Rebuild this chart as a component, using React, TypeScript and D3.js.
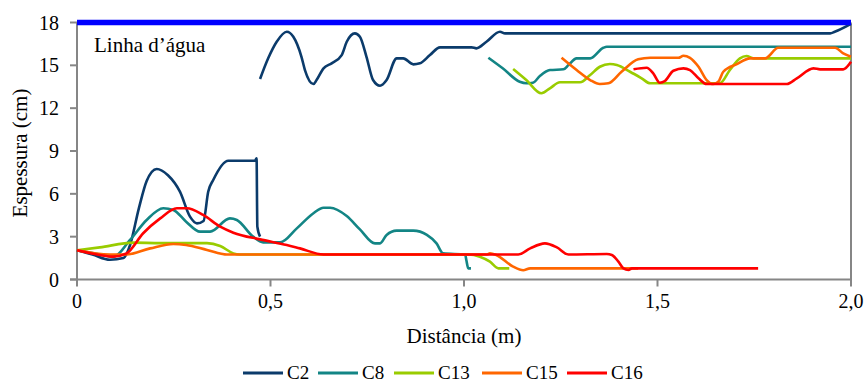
import React from "react";
import * as d3 from "d3";

// each series is a list of segments, each segment is [distance (m), thickness (cm)]
const c2 = [
  [[0, 2.05], [0.04, 1.75], [0.085, 1.38], [0.12, 1.5], [0.137, 2.4], [0.16, 5.0], [0.18, 6.9], [0.206, 7.74], [0.235, 7.3], [0.266, 6.15], [0.292, 4.4], [0.31, 3.93], [0.327, 4.1], [0.339, 6.15], [0.352, 6.97], [0.391, 8.32], [0.46, 8.32], [0.464, 8.49], [0.466, 3.7], [0.473, 3.0]],
  [[0.473, 14.04], [0.494, 15.49], [0.516, 16.65], [0.542, 17.35], [0.559, 17.0], [0.58, 15.6], [0.589, 14.67], [0.611, 13.69], [0.619, 13.97], [0.637, 14.79], [0.658, 15.14], [0.684, 15.72], [0.697, 16.65], [0.718, 17.24], [0.731, 17.0], [0.748, 15.6], [0.765, 13.97], [0.783, 13.57], [0.8, 13.97], [0.826, 15.49], [0.843, 15.49], [0.869, 15.07], [0.886, 15.14], [0.912, 15.72], [0.938, 16.26], [1.02, 16.26], [1.032, 16.19], [1.058, 16.65], [1.093, 17.35], [1.106, 17.24], [1.946, 17.24], [1.958, 17.35], [2.0, 17.9]],
];
const c8 = [
  [[0, 2.05], [0.05, 1.8], [0.094, 1.6], [0.137, 2.77], [0.18, 4.17], [0.223, 4.99], [0.249, 4.87], [0.282, 4.05], [0.318, 3.35], [0.344, 3.35], [0.395, 4.28], [0.413, 4.17], [0.455, 3.0], [0.481, 2.6], [0.525, 2.6], [0.568, 3.58], [0.611, 4.64], [0.637, 5.03], [0.654, 5.03], [0.697, 4.45], [0.731, 3.51], [0.77, 2.53], [0.783, 2.53], [0.8, 3.12], [0.826, 3.42], [0.869, 3.42], [0.904, 3.12], [0.929, 2.53], [0.946, 1.83], [1.003, 1.75], [1.006, 1.37], [1.011, 0.78], [1.018, 0.78]],
  [[1.063, 15.53], [1.1, 14.79], [1.144, 13.85], [1.161, 13.74], [1.178, 13.78], [1.196, 14.25], [1.222, 14.67], [1.257, 14.72], [1.27, 15.02], [1.291, 15.49], [1.326, 15.49], [1.36, 16.23], [1.369, 16.3], [2.0, 16.3]],
];
const c13 = [
  [[0, 2.05], [0.059, 2.25], [0.146, 2.58], [0.215, 2.55], [0.336, 2.55], [0.37, 2.35], [0.404, 1.83], [0.42, 1.75], [1.011, 1.75], [1.041, 1.6], [1.067, 1.25], [1.089, 0.78], [1.117, 0.78]],
  [[1.127, 14.74], [1.161, 13.97], [1.2, 13.04], [1.222, 13.39], [1.248, 13.81], [1.3, 13.81], [1.326, 14.32], [1.351, 14.9], [1.377, 15.09], [1.395, 15.02], [1.429, 14.55], [1.459, 14.09], [1.481, 13.74], [1.661, 13.74], [1.687, 14.67], [1.713, 15.49], [1.73, 15.65], [1.748, 15.49], [2.0, 15.49]],
];
const c15 = [
  [[0, 2.05], [0.085, 1.75], [0.128, 1.75], [0.189, 2.18], [0.249, 2.49], [0.282, 2.42], [0.336, 2.07], [0.387, 1.75], [1.06, 1.75], [1.067, 1.83], [1.083, 1.72], [1.127, 0.9], [1.153, 0.65], [1.171, 0.78], [1.45, 0.78]],
  [[1.252, 15.53], [1.291, 14.67], [1.326, 13.97], [1.351, 13.69], [1.373, 13.74], [1.407, 14.55], [1.45, 15.42], [1.481, 15.53], [1.554, 15.53], [1.567, 15.67], [1.584, 15.53], [1.606, 14.9], [1.627, 13.97], [1.644, 13.69], [1.657, 13.85], [1.67, 14.55], [1.705, 15.09], [1.739, 15.49], [1.778, 15.49], [1.812, 16.23], [1.959, 16.23], [1.98, 15.84], [2.0, 15.6]],
];
const c16 = [
  [[0, 2.05], [0.059, 1.72], [0.094, 1.6], [0.128, 1.83], [0.171, 3.24], [0.215, 4.28], [0.258, 4.99], [0.284, 4.99], [0.326, 4.52], [0.37, 3.7], [0.404, 3.28], [0.473, 2.81], [0.542, 2.42], [0.576, 2.18], [0.637, 1.75], [1.14, 1.75], [1.171, 2.18], [1.209, 2.53], [1.24, 2.25], [1.27, 1.75], [1.369, 1.79], [1.382, 1.72], [1.399, 1.25], [1.412, 0.78], [1.425, 0.67], [1.434, 0.78], [1.76, 0.78]],
  [[1.438, 14.72], [1.472, 14.83], [1.489, 14.44], [1.506, 13.78], [1.519, 13.9], [1.541, 14.62], [1.567, 14.79], [1.584, 14.67], [1.606, 14.09], [1.627, 13.69], [1.834, 13.69], [1.86, 14.09], [1.903, 14.79], [1.92, 14.72], [1.98, 14.72], [2.0, 15.25]],
];

const seriesNames = ["C2", "C8", "C13", "C15", "C16"];
const seriesColors = ["#0b3b6b", "#138585", "#99cc00", "#ff6600", "#ff0000"];
const seriesData = [c2, c8, c13, c15, c16];

const xTicks = [0, 0.5, 1.0, 1.5, 2.0];
const xTickLabels = ["0", "0,5", "1,0", "1,5", "2,0"];
const yTicks = [0, 3, 6, 9, 12, 15, 18];
const waterLevel = 18;

const width = 864;
const height = 383;
const margin = { top: 22.5, right: 13, bottom: 103.5, left: 77 };
const font = "Liberation Serif, Times New Roman, serif";

export default function App() {
  const x = d3.scaleLinear().domain([0, 2]).range([margin.left, width - margin.right]);
  const y = d3.scaleLinear().domain([0, 18]).range([height - margin.bottom, margin.top]);

  const line = d3
    .line<number[]>()
    .x((d) => x(d[0]))
    .y((d) => y(d[1]))
    .curve(d3.curveMonotoneX);

  const axisColor = "#868686";
  const x0 = x(0);
  const x1 = x(2);
  const yb = y(0);
  const yt = y(18);

  const legendX = [243, 318, 394, 482, 567];

  return (
    <svg
      width={width}
      height={height}
      style={{ position: "absolute", left: 0, top: 0, background: "#fff" }}
    >
      {/* plot frame */}
      <line x1={x0} x2={x0} y1={yt} y2={yb} stroke={axisColor} strokeWidth={2} />
      <line x1={x1} x2={x1} y1={yt} y2={yb} stroke={axisColor} strokeWidth={2} />
      <line x1={x0 - 7} x2={x1 + 1} y1={yb} y2={yb} stroke={axisColor} strokeWidth={2} />

      {yTicks.map((t) => (
        <g key={"y" + t}>
          <line x1={x0 - 7} x2={x0} y1={y(t)} y2={y(t)} stroke={axisColor} strokeWidth={2} />
          <text
            x={59}
            y={y(t)}
            dy="0.35em"
            textAnchor="end"
            fontFamily={font}
            fontSize={20}
            fill="#000"
          >
            {t}
          </text>
        </g>
      ))}
      {xTicks.map((t, i) => (
        <g key={"x" + t}>
          <line x1={x(t)} x2={x(t)} y1={yb} y2={yb + 7} stroke={axisColor} strokeWidth={2} />
          <text
            x={x(t)}
            y={308}
            textAnchor="middle"
            fontFamily={font}
            fontSize={20}
            fill="#000"
          >
            {xTickLabels[i]}
          </text>
        </g>
      ))}

      {/* series */}
      {seriesData.map((segs, i) =>
        segs.map((seg, j) => (
          <path
            key={seriesNames[i] + j}
            d={line(seg) || ""}
            fill="none"
            stroke={seriesColors[i]}
            strokeWidth={2.6}
            strokeLinejoin="round"
          />
        ))
      )}

      {/* water line */}
      <line
        x1={x0}
        x2={x1}
        y1={y(waterLevel)}
        y2={y(waterLevel)}
        stroke="#0000ff"
        strokeWidth={5.5}
      />
      <text x={94} y={52} fontFamily={font} fontSize={21} fill="#000">
        Linha d’água
      </text>

      {/* axis titles */}
      <text
        transform={`translate(27,153) rotate(-90)`}
        textAnchor="middle"
        fontFamily={font}
        fontSize={21}
        fill="#000"
      >
        Espessura (cm)
      </text>
      <text
        x={(x0 + x1) / 2}
        y={343}
        textAnchor="middle"
        fontFamily={font}
        fontSize={21}
        fill="#000"
      >
        Distância (m)
      </text>

      {/* legend */}
      {seriesNames.map((n, i) => (
        <g key={"lg" + n}>
          <line
            x1={legendX[i]}
            x2={legendX[i] + 40}
            y1={373}
            y2={373}
            stroke={seriesColors[i]}
            strokeWidth={3}
          />
          <text x={legendX[i] + 44} y={378.5} fontFamily={font} fontSize={19} fill="#000">
            {n}
          </text>
        </g>
      ))}
    </svg>
  );
}
